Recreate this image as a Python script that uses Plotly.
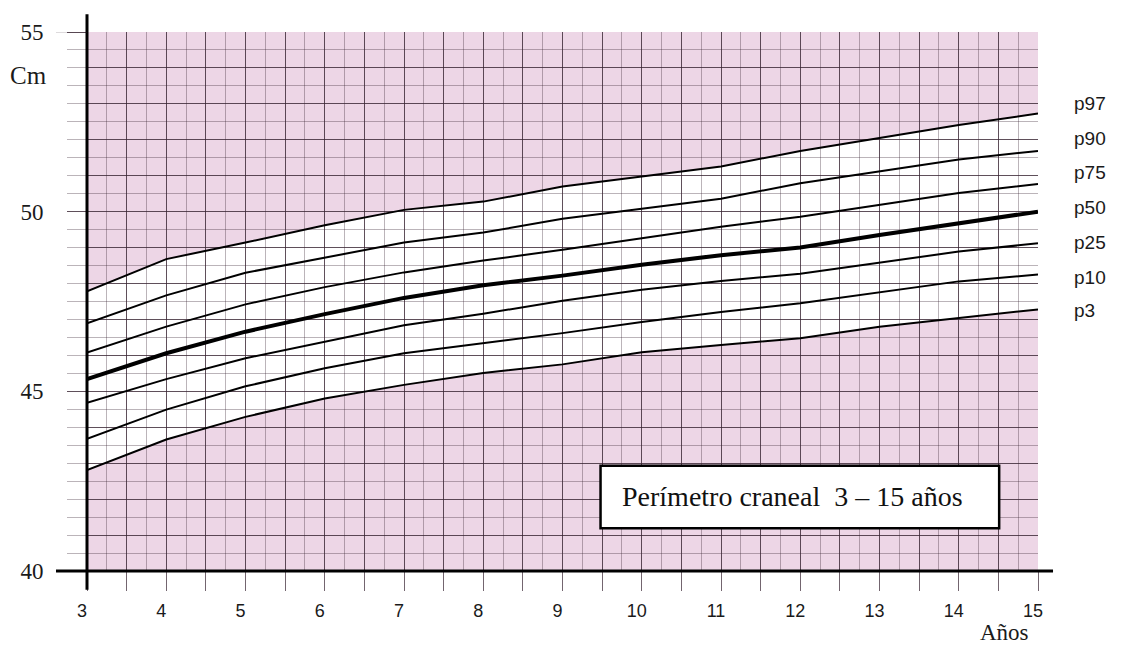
import plotly.graph_objects as go

# ---- data ----
ages = [3, 4, 5, 6, 7, 8, 9, 10, 11, 12, 13, 14, 15]
p97 = [47.78, 48.68, 49.14, 49.62, 50.05, 50.28, 50.70, 50.99, 51.26, 51.69, 52.04, 52.41, 52.73]
p90 = [46.89, 47.67, 48.30, 48.73, 49.14, 49.42, 49.80, 50.08, 50.36, 50.79, 51.12, 51.45, 51.69]
p75 = [46.08, 46.80, 47.42, 47.90, 48.31, 48.64, 48.94, 49.25, 49.58, 49.86, 50.20, 50.52, 50.77]
p50 = [45.34, 46.06, 46.66, 47.15, 47.60, 47.95, 48.22, 48.52, 48.79, 49.00, 49.35, 49.68, 50.00]
p25 = [44.68, 45.34, 45.92, 46.37, 46.84, 47.16, 47.52, 47.83, 48.07, 48.27, 48.57, 48.89, 49.12]
p10 = [43.68, 44.49, 45.14, 45.64, 46.06, 46.33, 46.62, 46.93, 47.21, 47.45, 47.76, 48.06, 48.25]
p3 = [42.81, 43.66, 44.29, 44.80, 45.18, 45.51, 45.75, 46.09, 46.29, 46.48, 46.80, 47.04, 47.28]

series_names = ["p97", "p90", "p75", "p50", "p25", "p10", "p3"]
series_vals = [p97, p90, p75, p50, p25, p10, p3]
label_y = [53.0, 52.04, 51.08, 50.11, 49.14, 48.18, 47.24]

x_major = [3 + 0.5 * i for i in range(25)]
x_text = [str(int(v)) if v == int(v) else "" for v in x_major]
x_minor = [3 + 0.25 * i for i in range(49)]
y_major = list(range(40, 56))
y_text = [str(v) if v % 5 == 0 else "" for v in y_major]
y_half = [40 + 0.5 * i for i in range(31)]

title_text = "Perímetro craneal  3 – 15 años"

PINK = "#EDD6E6"
MAJ = "rgba(55,35,50,0.70)"
MIN = "rgba(55,35,50,0.34)"
SERIF = "Liberation Serif, Times New Roman, serif"
SANS = "Liberation Sans, Arial, sans-serif"

fig = go.Figure()

for name, vals in zip(series_names, series_vals):
    fig.add_trace(go.Scatter(
        x=ages, y=vals, mode="lines", name=name,
        line=dict(color="black", width=4 if name == "p50" else 2),
        showlegend=False, hoverinfo="x+y+name"))

# white band between p3 and p97 (below the grid)
band = "M " + " L ".join(f"{a},{v}" for a, v in zip(ages, p3))
band += " L " + " L ".join(f"{a},{v}" for a, v in zip(reversed(ages), reversed(p97))) + " Z"

shapes = [
    dict(type="path", path=band, xref="x", yref="y", fillcolor="white",
         line=dict(width=0), layer="below"),
    # title box
    dict(type="rect", xref="x", yref="y", x0=9.48, x1=14.51, y0=41.19, y1=42.93,
         fillcolor="white", line=dict(color="black", width=2.5), layer="above"),
    # axis lines
    dict(type="line", xref="paper", yref="paper", x0=0, x1=0, y0=-0.035, y1=1.033,
         line=dict(color="black", width=3), layer="above"),
    dict(type="line", xref="paper", yref="paper", x0=-0.0326, x1=1.0158, y0=0, y1=0,
         line=dict(color="black", width=3), layer="above"),
    # longer tick at 55
    dict(type="line", xref="paper", yref="y", x0=-0.0326, x1=0, y0=55, y1=55,
         line=dict(color=MIN, width=1)),
]

annotations = [
    dict(text="Cm", xref="paper", yref="paper", x=-0.061, y=0.919, showarrow=False,
         xanchor="center", yanchor="middle",
         font=dict(family=SERIF, size=25, color="#1a1a1a")),
    dict(text="Años", xref="paper", yref="paper", x=0.965, y=-0.114, showarrow=False,
         xanchor="center", yanchor="middle",
         font=dict(family=SERIF, size=23, color="#1a1a1a")),
    dict(text=title_text, xref="x", yref="y", x=11.9, y=42.06, showarrow=False,
         xanchor="center", yanchor="middle",
         font=dict(family=SERIF, size=28, color="#111")),
]
for name, ly in zip(series_names, label_y):
    annotations.append(dict(text=name, xref="paper", yref="y", x=1.036, y=ly,
                            xanchor="left", yanchor="middle", showarrow=False,
                            font=dict(family=SANS, size=19, color="#1a1a1a")))

# page body has an 8px margin: figure is sized/offset to compensate
fig.update_layout(
    width=1107, height=638,
    margin=dict(l=78, r=77, t=20, b=75),
    paper_bgcolor="white", plot_bgcolor=PINK,
    shapes=shapes, annotations=annotations,
    xaxis=dict(range=[3, 15], tickmode="array", tickvals=x_major, ticktext=x_text,
               showgrid=True, gridcolor=MAJ, gridwidth=1, zeroline=False, showline=False,
               ticks="outside", ticklen=19, tickcolor=MAJ, tickwidth=1,
               ticklabelstandoff=4, ticklabelshift=-5,
               tickfont=dict(family=SANS, size=18, color="#1a1a1a"),
               minor=dict(tickmode="array", tickvals=x_minor, showgrid=True,
                          gridcolor=MIN, gridwidth=1, ticks=""),
               fixedrange=True),
    yaxis=dict(range=[40, 55], tickmode="array", tickvals=y_major, ticktext=y_text,
               showgrid=True, gridcolor=MAJ, gridwidth=1, zeroline=False, showline=False,
               ticks="outside", ticklen=19, tickcolor=MAJ, tickwidth=1,
               ticklabelstandoff=19,
               tickfont=dict(family=SERIF, size=23, color="#1a1a1a"),
               minor=dict(tickmode="array", tickvals=y_half, showgrid=True,
                          gridcolor=MIN, gridwidth=1, ticks="outside", ticklen=19,
                          tickcolor=MIN, tickwidth=1),
               fixedrange=True),
    xaxis2=dict(overlaying="x", side="top", anchor="y", range=[3, 15],
                tickmode="array", tickvals=x_minor, showticklabels=False,
                ticks="outside", ticklen=20, tickcolor=MIN, tickwidth=1,
                showgrid=False, zeroline=False, showline=False, fixedrange=True),
    yaxis2=dict(overlaying="y", side="right", anchor="x", range=[40, 55],
                tickmode="array", tickvals=y_half, showticklabels=False,
                ticks="outside", ticklen=22, tickcolor=MIN, tickwidth=1,
                showgrid=False, zeroline=False, showline=False, fixedrange=True),
)

fig.write_html("out.html")
